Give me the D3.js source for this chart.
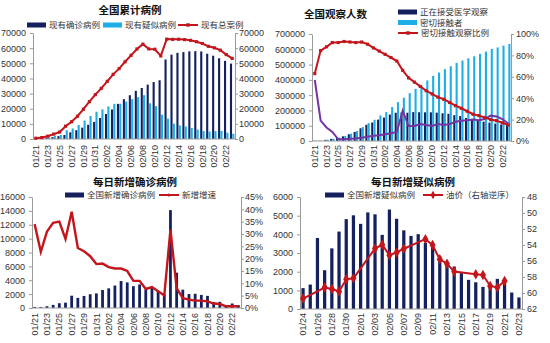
<!DOCTYPE html>
<html>
<head>
<meta charset="utf-8">
<script src="https://cdn.jsdelivr.net/npm/d3@7"></script>
<style>
body { margin: 0; background: #fff; }
svg text { font-family: "Liberation Sans", "Noto Sans CJK SC", sans-serif; fill: #333; }
.ax path, .ax line { stroke: #9a9a9a; }
.ax text { font-size: 9px; fill: #333; }
.dl { font-size: 9px; }
.title { font-family: "Noto Sans CJK SC", sans-serif; font-weight: 700; font-size: 10.5px; fill: #111; }
.lg { font-family: "Noto Sans CJK SC", sans-serif; font-size: 8.5px; fill: #333; }
</style>
</head>
<body>
<svg id="chart" width="550" height="343"></svg>
<script>
/* dates */
var days = ["01/21","01/22","01/23","01/24","01/25","01/26","01/27","01/28","01/29","01/30","01/31",
  "02/01","02/02","02/03","02/04","02/05","02/06","02/07","02/08","02/09","02/10","02/11","02/12",
  "02/13","02/14","02/15","02/16","02/17","02/18","02/19","02/20","02/21","02/22","02/23"];
var daysSusp = days.slice(3); // 01/24 .. 02/23

/* 全国累计病例 */
var curConfirmed = [420, 550, 800, 1250, 1900, 2650, 4400, 5800, 7500, 9400, 11300, 13900, 16500, 19500,
  23200, 26300, 28900, 31800, 33700, 35900, 37600, 38800, 52500, 55700, 56900, 57400, 57900, 58000,
  57800, 56300, 55000, 53300, 51600, 49800];
var curSuspected = [100, 390, 1070, 1970, 2680, 5790, 6970, 9240, 12170, 15240, 17990, 19540, 21560,
  23210, 23260, 24700, 26360, 27660, 28940, 23590, 21680, 16070, 13440, 10110, 8970, 8230, 7260, 6240,
  5250, 4920, 5210, 5370, 4150, 3430];
var curTotal = [520, 940, 1870, 3220, 4580, 8440, 11370, 15040, 19670, 24640, 29290, 33440, 38060, 42710,
  46460, 51000, 55260, 59460, 62640, 59490, 59280, 54870, 65940, 65810, 65870, 65630, 65160, 64240,
  63050, 61220, 60210, 58670, 55750, 53230];

/* 全国观察人数 */
var underObs = [900, 1200, 7400, 14000, 20200, 30500, 44000, 59500, 83500, 106000, 121000, 140000,
  153000, 173000, 185000, 187000, 185000, 189000, 188000, 187500, 187700, 185500, 181400, 178000,
  169000, 163000, 150500, 141500, 135900, 126400, 120300, 113600, 107800, 103000];
var closeContacts = [1400, 1400, 8400, 15200, 22000, 33000, 48000, 65000, 91000, 117000, 139000, 167000,
  189000, 222000, 254000, 283000, 313000, 341000, 363000, 396000, 426000, 448000, 470000, 489000,
  511000, 526000, 541000, 554000, 570000, 585000, 602000, 612000, 624000, 635000];
var obsRatio = [63, 84.5, 88, 92, 92, 93, 92.5, 92, 92.5, 90.5, 87, 84, 81, 78, 74.7, 66, 59, 55, 51, 47,
  44, 41, 39, 36, 33, 30.6, 27.8, 25, 23.7, 22, 20, 19, 17, 15];
var purpleRatio = [57, 19, 12.6, 8.5, 1.6, 1.6, 2, 2.3, 3, 4, 5, 5.4, 6.3, 7.3, 8.5, 28.4, 14, 14, 15.8,
  15, 14, 15.8, 15, 15.8, 18, 19, 19.5, 20, 19.5, 20.5, 23.7, 23, 20.5, 16.4];

/* 每日新增确诊病例 */
var newConfirmed = [149, 131, 259, 444, 688, 769, 1771, 1459, 1737, 1982, 2102, 2590, 2829, 3235, 3887,
  3694, 3143, 3399, 2656, 3062, 2478, 2015, 14108, 5090, 2641, 2009, 2048, 1886, 1749, 820, 889, 397,
  648, 409];
var newGrowth = [34, 22.8, 31, 34.5, 35, 28, 39, 24.3, 23, 21, 17.8, 18, 16.6, 16, 16, 15, 11, 11, 7.7,
  8.5, 6.8, 5.1, 31.8, 8.1, 4, 3.4, 3, 3, 2.7, 1.8, 1.6, 0.7, 0.7, 0.7];

/* 每日新增疑似病例 + 油价 */
var newSuspected = [1118, 1309, 3806, 2077, 3248, 4148, 4812, 5019, 4562, 5173, 5072, 3971, 5328, 4833,
  4214, 3916, 4008, 3536, 3342, 2807, 2450, 2277, 1918, 1563, 1432, 1185, 1277, 1614, 1361, 882, 620];
var oilDays = ["01/24","01/27","01/28","01/29","01/30","01/31","02/03","02/04","02/05","02/06","02/07",
  "02/10","02/11","02/12","02/13","02/14","02/17","02/18","02/19","02/20","02/21"];
var oilPrice = [60.69, 59.32, 59.51, 59.81, 58.29, 58.16, 54.45, 53.96, 55.28, 54.93, 54.47, 53.27,
  54.01, 55.79, 56.34, 57.32, 57.67, 57.75, 59.12, 59.31, 58.50];

var NAVY = "#14215e", SKY = "#1daee7", RED = "#c3161c", PURPLE = "#7434a4";

var svg = d3.select("#chart");

/* helpers */
function leftAxis(y, x0, ticks, fmt) {
  svg.append("g").attr("class", "ax").attr("transform", "translate(" + x0 + ",0)")
    .call(d3.axisLeft(y).tickValues(ticks).tickSize(3).tickSizeOuter(0).tickPadding(4).tickFormat(fmt));
}
function rightAxis(y, x1, ticks, fmt, pad) {
  svg.append("g").attr("class", "ax").attr("transform", "translate(" + x1 + ",0)")
    .call(d3.axisRight(y).tickValues(ticks).tickSize(3).tickSizeOuter(0).tickPadding(pad).tickFormat(fmt));
}
function baseLine(x, yPix) {
  svg.append("line").attr("x1", x.range()[0]).attr("x2", x.range()[1])
    .attr("y1", yPix).attr("y2", yPix).attr("stroke", "#9a9a9a");
}
function dateLabels(x, labels, y0) {
  svg.append("g").selectAll("text").data(labels).join("text")
    .attr("class", "dl")
    .attr("transform", function(d) { return "translate(" + (x(d) + x.bandwidth() / 2) + "," + y0 + ") rotate(-90)"; })
    .attr("dy", "0.35em").attr("text-anchor", "end").text(function(d) { return d; });
}
function title(txt, x, y, anchor) {
  svg.append("text").attr("class", "title").attr("x", x).attr("y", y)
    .attr("text-anchor", anchor || "middle").text(txt);
}
function legendRect(x, y, color, txt) {
  svg.append("rect").attr("x", x).attr("y", y - 2.5).attr("width", 19).attr("height", 5).attr("fill", color);
  svg.append("text").attr("class", "lg").attr("x", x + 22).attr("y", y + 3).text(txt);
}
function legendLine(x, y, color, symbol, size, txt) {
  svg.append("line").attr("x1", x).attr("x2", x + 20).attr("y1", y).attr("y2", y)
    .attr("stroke", color).attr("stroke-width", 2);
  svg.append("path").attr("d", d3.symbol().type(symbol).size(size)())
    .attr("transform", "translate(" + (x + 10) + "," + y + ")").attr("fill", color);
  svg.append("text").attr("class", "lg").attr("x", x + 23).attr("y", y + 3).text(txt);
}
function everyOther(list) { return list.filter(function(d, i) { return i % 2 == 0; }); }

/* ---------- 全国累计病例 ---------- */
(function() {
  var x = d3.scaleBand().domain(days).range([33, 235]).paddingInner(0.25).paddingOuter(0.1);
  var sub = d3.scaleBand().domain(["c", "s"]).range([0, x.bandwidth()]).paddingInner(0.1);
  var y = d3.scaleLinear().domain([0, 70000]).range([139, 33]);
  var ticks = d3.range(0, 70001, 10000);

  title("全国累计病例", 130, 14);
  legendRect(27, 25, NAVY, "现有确诊病例");
  legendRect(103, 25, SKY, "现有疑似病例");
  legendLine(178, 25, RED, d3.symbolSquare, 12, "现有总案例");

  svg.append("g").selectAll("rect").data(curConfirmed).join("rect")
    .attr("x", function(d, i) { return x(days[i]) + sub("c"); })
    .attr("y", function(d) { return y(d); })
    .attr("width", sub.bandwidth()).attr("height", function(d) { return y(0) - y(d); })
    .attr("fill", NAVY);
  svg.append("g").selectAll("rect").data(curSuspected).join("rect")
    .attr("x", function(d, i) { return x(days[i]) + sub("s"); })
    .attr("y", function(d) { return y(d); })
    .attr("width", sub.bandwidth()).attr("height", function(d) { return y(0) - y(d); })
    .attr("fill", SKY);

  leftAxis(y, 33, ticks, d3.format("d"));
  rightAxis(y, 235, ticks, d3.format("d"), 1);
  baseLine(x, y(0));
  dateLabels(x, everyOther(days), 145);

  var cx = function(d, i) { return x(days[i]) + x.bandwidth() / 2; };
  svg.append("path").datum(curTotal)
    .attr("d", d3.line().x(cx).y(function(d) { return y(d); }))
    .attr("fill", "none").attr("stroke", RED).attr("stroke-width", 2);
  svg.append("g").selectAll("path").data(curTotal).join("path")
    .attr("d", d3.symbol().type(d3.symbolSquare).size(10)())
    .attr("transform", function(d, i) { return "translate(" + cx(d, i) + "," + y(d) + ")"; })
    .attr("fill", RED);
})();

/* ---------- 全国观察人数 ---------- */
(function() {
  var x = d3.scaleBand().domain(days).range([312, 511]).paddingInner(0.25).paddingOuter(0.1);
  var sub = d3.scaleBand().domain(["o", "c"]).range([0, x.bandwidth()]).paddingInner(0.1);
  var y = d3.scaleLinear().domain([0, 700000]).range([141, 34]);
  var yr = d3.scaleLinear().domain([0, 100]).range([141, 34]);

  title("全国观察人数", 304, 18, "start");
  legendRect(398, 12, NAVY, "正在接受医学观察");
  legendRect(398, 22.5, SKY, "密切接触者");
  legendLine(398, 33, RED, d3.symbolSquare, 12, "密切接触观察比例");

  svg.append("g").selectAll("rect").data(underObs).join("rect")
    .attr("x", function(d, i) { return x(days[i]) + sub("o"); })
    .attr("y", function(d) { return y(d); })
    .attr("width", sub.bandwidth()).attr("height", function(d) { return y(0) - y(d); })
    .attr("fill", NAVY);
  svg.append("g").selectAll("rect").data(closeContacts).join("rect")
    .attr("x", function(d, i) { return x(days[i]) + sub("c"); })
    .attr("y", function(d) { return y(d); })
    .attr("width", sub.bandwidth()).attr("height", function(d) { return y(0) - y(d); })
    .attr("fill", SKY);

  leftAxis(y, 312, d3.range(0, 700001, 100000), d3.format("d"));
  rightAxis(yr, 511, d3.range(0, 101, 20), function(d) { return d + "%"; }, 2);
  baseLine(x, y(0));
  dateLabels(x, everyOther(days), 145);

  var cx = function(d, i) { return x(days[i]) + x.bandwidth() / 2; };
  svg.append("path").datum(purpleRatio)
    .attr("d", d3.line().x(cx).y(function(d) { return yr(d); }))
    .attr("fill", "none").attr("stroke", PURPLE).attr("stroke-width", 2);
  svg.append("path").datum(obsRatio)
    .attr("d", d3.line().x(cx).y(function(d) { return yr(d); }))
    .attr("fill", "none").attr("stroke", RED).attr("stroke-width", 2);
  svg.append("g").selectAll("path").data(obsRatio).join("path")
    .attr("d", d3.symbol().type(d3.symbolSquare).size(10)())
    .attr("transform", function(d, i) { return "translate(" + cx(d, i) + "," + yr(d) + ")"; })
    .attr("fill", RED);
})();

/* ---------- 每日新增确诊病例 ---------- */
(function() {
  var x = d3.scaleBand().domain(days).range([32, 241]).paddingInner(0.55).paddingOuter(0.2);
  var y = d3.scaleLinear().domain([0, 16000]).range([308, 197]);
  var yr = d3.scaleLinear().domain([0, 45]).range([308, 197]);

  title("每日新增确诊病例", 135, 186);
  legendRect(65, 195, NAVY, "全国新增确诊病例");
  legendLine(159, 195, RED, d3.symbolCircle, 8, "新增增速");

  svg.append("g").selectAll("rect").data(newConfirmed).join("rect")
    .attr("x", function(d, i) { return x(days[i]); })
    .attr("y", function(d) { return y(d); })
    .attr("width", x.bandwidth()).attr("height", function(d) { return y(0) - y(d); })
    .attr("fill", NAVY);

  leftAxis(y, 32, d3.range(0, 16001, 2000), d3.format("d"));
  rightAxis(yr, 241, d3.range(0, 46, 5), function(d) { return d + "%"; }, 1);
  baseLine(x, y(0));
  dateLabels(x, everyOther(days), 313);

  var cx = function(d, i) { return x(days[i]) + x.bandwidth() / 2; };
  svg.append("path").datum(newGrowth)
    .attr("d", d3.line().x(cx).y(function(d) { return yr(d); }))
    .attr("fill", "none").attr("stroke", RED).attr("stroke-width", 2.4);
})();

/* ---------- 每日新增疑似病例 ---------- */
(function() {
  var x = d3.scaleBand().domain(daysSusp).range([300, 522]).paddingInner(0.55).paddingOuter(0.2);
  var y = d3.scaleLinear().domain([0, 6000]).range([309, 197]);
  var yr = d3.scaleLinear().domain([48, 62]).range([197, 309]); // 右轴逆序

  title("每日新增疑似病例", 413, 186);
  legendRect(325, 195, NAVY, "全国新增疑似病例");
  legendLine(423, 195, RED, d3.symbolDiamond, 20, "油价（右轴逆序）");

  svg.append("g").selectAll("rect").data(newSuspected).join("rect")
    .attr("x", function(d, i) { return x(daysSusp[i]); })
    .attr("y", function(d) { return y(d); })
    .attr("width", x.bandwidth()).attr("height", function(d) { return y(0) - y(d); })
    .attr("fill", NAVY);

  leftAxis(y, 300, d3.range(0, 6001, 1000), d3.format("d"));
  rightAxis(yr, 522, d3.range(48, 63, 2), d3.format("d"), 2);
  baseLine(x, y(0));
  dateLabels(x, everyOther(daysSusp), 313);

  var cx = function(d, i) { return x(oilDays[i]) + x.bandwidth() / 2; };
  svg.append("path").datum(oilPrice)
    .attr("d", d3.line().x(cx).y(function(d) { return yr(d); }))
    .attr("fill", "none").attr("stroke", RED).attr("stroke-width", 2);
  svg.append("g").selectAll("path").data(oilPrice).join("path")
    .attr("d", d3.symbol().type(d3.symbolDiamond).size(32)())
    .attr("transform", function(d, i) { return "translate(" + cx(d, i) + "," + yr(d) + ")"; })
    .attr("fill", RED);
})();
</script>
</body>
</html>
